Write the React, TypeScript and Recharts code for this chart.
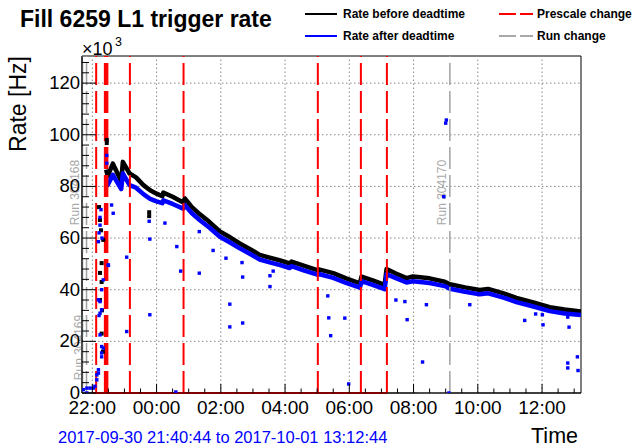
import React from 'react';
import { ComposedChart, Line, Scatter, XAxis, YAxis, ReferenceLine, ReferenceArea } from 'recharts';

const FONT = '"Liberation Sans", Arial, Helvetica, sans-serif';

// Time axis: hours after 2017-09-30 22:00
const T_START = -0.3211; // 21:40:44
const T_END = 15.2122; // 13:12:44
const Y_MAX = 130.5;

// Rate before deadtime (kHz) - main band
const blackBand: [number, number][] = [
  [0.43, 86.5], [0.48, 84], [0.64, 88.8], [0.9, 82], [0.95, 89.5], [1.16, 85],
  [1.36, 83.5], [1.59, 80.5], [1.8, 78.5], [2.0, 77.2], [2.18, 76.2], [2.21, 77.6],
  [2.5, 76], [2.83, 73.8], [2.88, 75.4], [3.1, 72], [3.35, 69.2], [3.65, 66.2],
  [3.97, 62.6], [4.3, 60.2], [4.59, 57.9], [4.9, 55.8], [5.21, 53.5], [5.55, 52.3],
  [5.85, 51.3], [6.14, 50.2], [6.2, 50.9], [6.6, 49.2], [6.98, 47.7], [7.08, 47.8],
  [7.5, 46.4], [7.9, 44.4], [8.33, 42.5], [8.38, 45.1], [8.75, 43.5], [9.1, 41.9],
  [9.16, 48], [9.45, 46.3], [9.78, 44.5], [9.98, 45.1], [10.5, 44.4], [10.97, 43.1],
  [11.13, 42.1], [11.6, 40.9], [12.06, 39.9], [12.32, 40.3], [12.8, 38.6], [13.2, 36.8],
  [13.7, 35.2], [14.24, 33.2], [14.7, 32.3], [15.21, 31.6],
];

// Rate after deadtime (kHz) - main band
const blueBand: [number, number][] = [
  [0.43, 82], [0.48, 80.5], [0.64, 84.5], [0.9, 79], [0.95, 85], [1.16, 80.5],
  [1.36, 79.5], [1.59, 77], [1.8, 75.2], [2.0, 74.2], [2.18, 73.5], [2.21, 74.6],
  [2.5, 73.2], [2.83, 71.4], [2.88, 72.8], [3.1, 69.6], [3.35, 66.9], [3.65, 64],
  [3.97, 60.5], [4.3, 58.2], [4.59, 56], [4.9, 53.9], [5.21, 51.7], [5.55, 50.5],
  [5.85, 49.5], [6.14, 48.4], [6.2, 49.1], [6.6, 47.4], [6.98, 45.9], [7.08, 46],
  [7.5, 44.6], [7.9, 42.6], [8.33, 40.8], [8.38, 43.3], [8.75, 41.8], [9.1, 40.2],
  [9.16, 46], [9.45, 44.5], [9.78, 42.8], [9.98, 43.3], [10.5, 42.6], [10.97, 41.4],
  [11.13, 40.4], [11.6, 39.2], [12.06, 38.2], [12.32, 38.6], [12.8, 36.9], [13.2, 35.2],
  [13.7, 33.6], [14.24, 31.7], [14.7, 30.8], [15.21, 30.2],
];

// Isolated "before deadtime" points
const blackDots: [number, number][] = [
  [0.21, 72], [0.24, 67], [0.27, 63], [0.34, 59.3], [0.24, 46.5], [0.29, 50.3],
  [0.29, 43], [0.24, 36], [0.3, 32], [0.29, 23], [0.33, 16], [0.45, 98], [0.45, 96.8],
  [1.77, 70], [1.77, 68.5],
];

// Isolated "after deadtime" points
const blueDots: [number, number][] = [
  [-0.28, 1.3], [-0.17, 0], [-0.17, 1.9], [-0.07, 1.9], [0.03, 1.9], [0.08, 2.6],
  [0.14, 5.1], [0.14, 7], [0.19, 9], [0.19, 7.7], [0.29, 14], [0.29, 15.5], [0.34, 17.4],
  [0.29, 18], [0.24, 22.5], [0.21, 30], [0.24, 30.9], [0.29, 32.2], [0.19, 36.1],
  [0.24, 35.4], [0.29, 40], [0.34, 43.8], [0.5, 49.6], [0.19, 58.6], [0.21, 62],
  [0.24, 65], [0.24, 68], [0.27, 71], [0.3, 60], [0.6, 72.8], [0.65, 69.6],
  [0.45, 92], [0.45, 89],
  [1.07, 52.6], [1.79, 59.6], [2.63, 56.7], [2.75, 47.2], [3.33, 46.4], [3.76, 55.2],
  [4.16, 52.2], [4.68, 44.9], [4.66, 50.5], [5.53, 45.4], [5.53, 41.2], [5.63, 47.2],
  [1.79, 30.3], [1.07, 23.8], [4.28, 34.4], [4.28, 25.6], [4.68, 27.1], [2.6, 0.4],
  [0.5, 49.4], [2.26, 65.8], [3.33, 62.5], [1.77, 66.5],
  [7.33, 37.6], [7.36, 29.1], [7.42, 22.2], [7.98, 3.5], [7.86, 29], [9.45, 36],
  [9.73, 35.4], [9.8, 28.4], [10.4, 34.2], [10.28, 12], [11.1, 0], [11.02, 105.7],
  [11.0, 104.5], [10.94, 76], [11.75, 34.2], [13.46, 28.1], [13.8, 30.6], [14.01, 30.3],
  [14.03, 26.4], [14.64, 31], [14.8, 29.4], [14.84, 25.5], [14.8, 11.6], [14.8, 9.7],
  [15.12, 8.7], [15.1, 14],
];

// Prescale changes (hours after 22:00)
const prescaleChanges = [0.12, 0.43, 1.17, 2.84, 7.02, 8.36, 9.17];
// Run changes
const runChanges = [-0.305, -0.18, 11.13];
const runLabels = ['Run 304168', 'Run 304169', 'Run 304170'];

const xTicks = [0, 0.5, 1, 1.5, 2, 2.5, 3, 3.5, 4, 4.5, 5, 5.5, 6, 6.5, 7, 7.5, 8, 8.5, 9, 9.5, 10, 10.5, 11, 11.5, 12, 12.5, 13, 13.5, 14, 14.5, 15];
const xMajorTicks = [0, 2, 4, 6, 8, 10, 12, 14];
const xMajorLabels = ['22:00', '00:00', '02:00', '04:00', '06:00', '08:00', '10:00', '12:00'];
const yTicks = [0, 4, 8, 12, 16, 20, 24, 28, 32, 36, 40, 44, 48, 52, 56, 60, 64, 68, 72, 76, 80, 84, 88, 92, 96, 100, 104, 108, 112, 116, 120, 124, 128];
const yMajorTicks = [0, 20, 40, 60, 80, 100, 120];

// ---- styles ----
const prescaleWidths = [2, 4.5, 2, 2, 2, 2, 2];
const runLabelFrac = [0.405, 0.865, 0.405];

const toPts = (arr: [number, number][]) => arr.map(([t, v]) => ({ t, v }));

const XTick = (props: any) => {
  const { x, y, payload } = props;
  const idx = xMajorTicks.indexOf(payload.value);
  const major = idx >= 0;
  return (
    <g>
      <line x1={x} x2={x} y1={y} y2={y - (major ? 9 : 4.5)} stroke="#000" strokeWidth={1} />
      {major && (
        <text x={x} y={y + 21} textAnchor="middle" fontSize={19} fontFamily={FONT} fill="#000">
          {xMajorLabels[idx]}
        </text>
      )}
    </g>
  );
};

const YTick = (props: any) => {
  const { x, y, payload } = props;
  const ax = x + 2;
  const major = yMajorTicks.indexOf(payload.value) >= 0;
  return (
    <g>
      <line x1={ax} x2={ax + (major ? 14 : 7)} y1={y} y2={y} stroke="#000" strokeWidth={1} />
      {major && (
        <text x={x} y={y + 6} textAnchor="end" fontSize={18.5} fontFamily={FONT} fill="#000">
          {payload.value}
        </text>
      )}
    </g>
  );
};

const blackSquare = (p: any) => <rect x={p.cx - 2} y={p.cy - 2} width={4} height={4} fill="#000" />;
const blueSquare = (p: any) => <rect x={p.cx - 1.7} y={p.cy - 1.7} width={3.4} height={3.4} fill="#0000ff" />;

const runLabel = (i: number) => (props: any) => {
  const vb = props.viewBox || {};
  const cx = (vb.x ?? 0) - 4;
  const cy = (vb.y ?? 0) + runLabelFrac[i] * (vb.height ?? 0);
  return (
    <text transform={`translate(${cx},${cy}) rotate(-90)`} textAnchor="middle" fontSize={12} fontFamily={FONT} fill="#a8a8a8">
      {runLabels[i]}
    </text>
  );
};

export default function App() {
  return (
    <div style={{ position: 'absolute', left: 0, top: 0, width: 636, height: 448, background: '#fff' }}>
      <ComposedChart
        width={636}
        height={448}
        margin={{ top: 56, right: 55, bottom: 25, left: 22 }}
      >
        <XAxis
          dataKey="t"
          type="number"
          domain={[T_START, T_END]}
          allowDataOverflow
          ticks={xTicks}
          tick={<XTick />}
          tickLine={false}
          tickSize={0}
          tickMargin={0}
          axisLine={{ stroke: '#000' }}
          height={30}
          interval={0}
        />
        <YAxis
          type="number"
          domain={[0, Y_MAX]}
          allowDataOverflow
          ticks={yTicks}
          tick={<YTick />}
          tickLine={false}
          tickSize={0}
          tickMargin={2}
          axisLine={{ stroke: '#000' }}
          width={60}
          interval={0}
        />
        {xMajorTicks.map((v) => (
          <ReferenceLine key={'gx' + v} x={v} stroke="#888" strokeDasharray="1.5 2.5" strokeWidth={1} />
        ))}
        {yMajorTicks.filter((v) => v > 0).map((v) => (
          <ReferenceLine key={'gy' + v} y={v} stroke="#888" strokeDasharray="1.5 2.5" strokeWidth={1} />
        ))}
        <Line data={toPts(blackBand)} dataKey="v" type="linear" stroke="#000" strokeWidth={4.5} dot={false} activeDot={false} isAnimationActive={false} strokeLinejoin="round" />
        <Scatter data={toPts(blackDots)} dataKey="v" shape={blackSquare} isAnimationActive={false} />
        <Line data={toPts(blueBand)} dataKey="v" type="linear" stroke="#0000ff" strokeWidth={4.5} dot={false} activeDot={false} isAnimationActive={false} strokeLinejoin="round" />
        <Scatter data={toPts(blueDots)} dataKey="v" shape={blueSquare} isAnimationActive={false} />
        {prescaleChanges.map((t, i) => (
          <ReferenceLine key={'ps' + i} x={t} stroke="#ff0000" strokeWidth={prescaleWidths[i]} strokeDasharray="22 6" />
        ))}
        <ReferenceLine segment={[{ x: 0.03, y: 0 }, { x: 9.17, y: 0 }]} stroke="#ff0000" strokeWidth={2} />
        <ReferenceLine segment={[{ x: 10.1, y: 0 }, { x: 11.1, y: 0 }]} stroke="#a8a8a8" strokeWidth={1.5} />
        {runChanges.map((t, i) => (
          <ReferenceLine key={'run' + i} x={t} stroke="#a0a0a0" strokeWidth={1.5} strokeDasharray="22 6" label={runLabel(i)} />
        ))}
        <ReferenceArea x1={T_START} x2={T_END} y1={0} y2={Y_MAX} fill="none" fillOpacity={0} stroke="#000" strokeWidth={1} />
      </ComposedChart>
      <svg width={636} height={448} style={{ position: 'absolute', left: 0, top: 0, pointerEvents: 'none' }}>
        <text x={20} y={26.5} fontSize={23} fontWeight="bold" fontFamily={FONT} fill="#000">Fill 6259 L1 trigger rate</text>
        <line x1={305} x2={337} y1={14} y2={14} stroke="#000" strokeWidth={2} />
        <text x={343} y={18.3} fontSize={12} fontWeight="bold" fontFamily={FONT} fill="#000">Rate before deadtime</text>
        <line x1={305} x2={337} y1={36} y2={36} stroke="#0000ff" strokeWidth={2} />
        <text x={343} y={40.3} fontSize={12} fontWeight="bold" fontFamily={FONT} fill="#000">Rate after deadtime</text>
        <line x1={499} x2={533} y1={14} y2={14} stroke="#ff0000" strokeWidth={2} strokeDasharray="17 4" />
        <text x={537} y={18.3} fontSize={12} fontWeight="bold" fontFamily={FONT} fill="#000">Prescale change</text>
        <line x1={499} x2={533} y1={36} y2={36} stroke="#a8a8a8" strokeWidth={2} strokeDasharray="17 4" />
        <text x={537} y={40.3} fontSize={12} fontWeight="bold" fontFamily={FONT} fill="#000">Run change</text>
        <text x={82} y={55} fontSize={18} fontFamily={FONT} fill="#000">×10</text>
        <text x={115} y={46} fontSize={12.5} fontFamily={FONT} fill="#000">3</text>
        <text transform="translate(26,104) rotate(-90)" textAnchor="middle" fontSize={23} fontFamily={FONT} fill="#000">Rate [Hz]</text>
        <text x={578} y={443} textAnchor="end" fontSize={21.5} fontFamily={FONT} fill="#000">Time</text>
        <text x={58} y={443} fontSize={16.5} fontFamily={FONT} fill="#0000ff">2017-09-30 21:40:44 to 2017-10-01 13:12:44</text>
      </svg>
    </div>
  );
}
